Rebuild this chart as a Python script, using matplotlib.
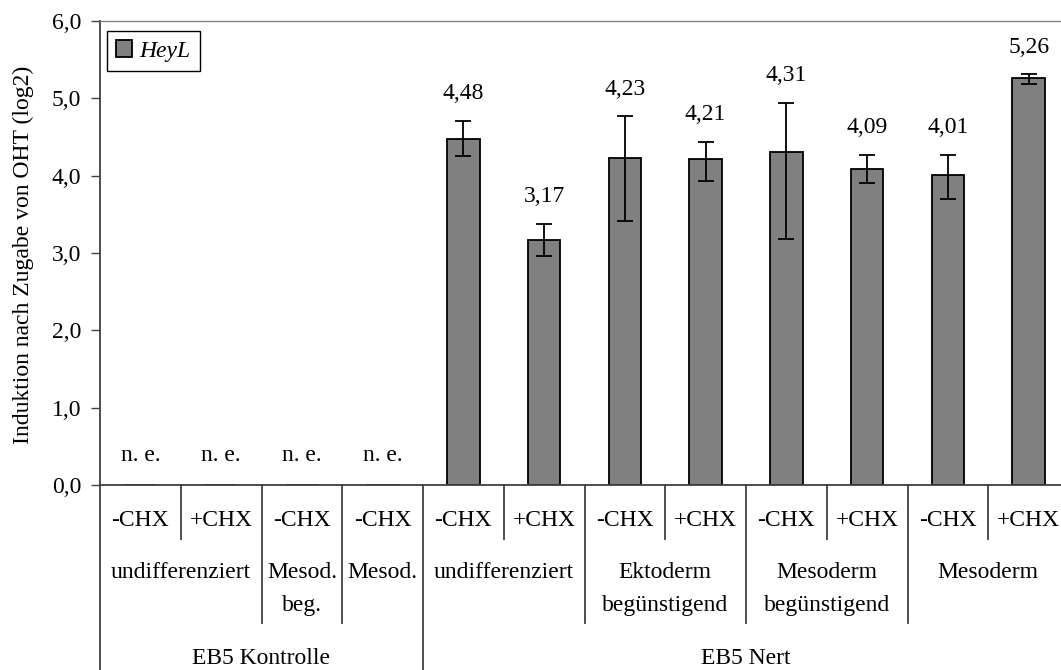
import numpy as np
import matplotlib
matplotlib.use('Agg')
import matplotlib.pyplot as plt
from matplotlib.patches import Patch

plt.rcParams['font.family'] = ['Liberation Serif', 'DejaVu Serif']

# data
treatment = ["-CHX", "+CHX", "-CHX", "-CHX", "-CHX", "+CHX",
             "-CHX", "+CHX", "-CHX", "+CHX", "-CHX", "+CHX"]
values = [np.nan, np.nan, np.nan, np.nan, 4.48, 3.17, 4.23, 4.21, 4.31, 4.09, 4.01, 5.26]
err_up = [0, 0, 0, 0, 0.23, 0.21, 0.54, 0.23, 0.63, 0.18, 0.26, 0.05]
err_down = [0, 0, 0, 0, 0.23, 0.21, 0.82, 0.28, 1.13, 0.18, 0.31, 0.07]
not_measured = [0, 1, 2, 3]
# (label lines, first cat, last cat)
stages = [(["undifferenziert"], 0, 1), (["Mesod.", "beg."], 2, 2), (["Mesod."], 3, 3),
          (["undifferenziert"], 4, 5), (["Ektoderm", "begünstigend"], 6, 7),
          (["Mesoderm", "begünstigend"], 8, 9), (["Mesoderm"], 10, 11)]
lines_ = [("EB5 Kontrolle", 0, 3), ("EB5 Nert", 4, 11)]

fs = 17
W, H = 1061, 670
fig = plt.figure(figsize=(W / 100, H / 100), dpi=100)
ax = fig.add_axes([100 / W, 1 - 485 / H, 969 / W, 464 / H])

x = np.arange(len(values))
vals = np.array(values)
up = np.array(err_up)
dn = np.array(err_down)
ax.bar(x, np.nan_to_num(vals), width=0.4, color='#808080', edgecolor='black', linewidth=1.3, zorder=2)
m = ~np.isnan(vals)
ax.errorbar(x[m], vals[m], yerr=[dn[m], up[m]], fmt='none', ecolor='black',
            elinewidth=1.3, capsize=5.8, capthick=1.3, zorder=3)
for i in x[m]:
    ax.annotate(f"{vals[i]:.2f}".replace('.', ','), (i, vals[i] + up[i]),
                xytext=(0, 27), textcoords='offset pixels', ha='center', va='center', fontsize=fs)
for i in not_measured:
    ax.text(i, 0.38, "n. e.", ha='center', va='center', fontsize=fs)

ax.set_xlim(-0.5, len(values) - 0.5)
ax.set_ylim(0, 6)
ax.set_yticks(np.arange(0, 6.01, 1))
ax.set_yticklabels([f"{t:.1f}".replace('.', ',') for t in np.arange(0, 6.01, 1)], fontsize=fs)
ax.tick_params(axis='y', direction='out', length=6.5, width=1, color='#404040', pad=7)
ax.set_xticks([])
fig.text(23 / W, 1 - 255 / H, "Induktion nach Zugabe von OHT (log2)", rotation=90,
         ha='center', va='center', fontsize=fs)
for s in ['left', 'bottom']:
    ax.spines[s].set_color('#404040')
    ax.spines[s].set_linewidth(1.3)
for s in ['top', 'right']:
    ax.spines[s].set_color('#808080')
    ax.spines[s].set_linewidth(1)

# category axis below the plot
tr = ax.get_xaxis_transform()
def fy(p):
    return (485 - p) / 464
for i, t in enumerate(treatment):
    ax.text(i, fy(521), t, ha='center', va='center', fontsize=fs, transform=tr, clip_on=False)
for lbl, a, b in stages:
    for k, ln in enumerate(lbl):
        ax.text((a + b) / 2, fy(573 + 32 * k), ln, ha='center', va='center', fontsize=fs,
                transform=tr, clip_on=False)
for lbl, a, b in lines_:
    ax.text((a + b) / 2, fy(658), lbl, ha='center', va='center', fontsize=fs, transform=tr, clip_on=False)

bounds1 = set(i + 0.5 for i in range(len(values) - 1))
bounds2 = set(b + 0.5 for _, a, b in stages[:-1])
bounds3 = set(b + 0.5 for _, a, b in lines_[:-1]) | {-0.5}
for xb in bounds1 | bounds2 | bounds3:
    if xb in bounds3:
        end = 700
    elif xb in bounds2:
        end = 623
    else:
        end = 539
    ax.plot([xb, xb], [0, fy(end)], color='#404040', lw=1.3, transform=tr, clip_on=False)

leg = ax.legend([Patch(facecolor='#808080', edgecolor='black', linewidth=1.3)], ["HeyL"],
                loc='upper left', bbox_to_anchor=(7 / 969, 1 - 10 / 464), borderaxespad=0,
                prop={'family': 'Liberation Serif', 'style': 'italic', 'size': fs},
                handlelength=0.67, handleheight=0.67, handletextpad=0.3, borderpad=0.4,
                fancybox=False, framealpha=1, edgecolor='black')
leg.get_frame().set_linewidth(1)

fig.savefig('out.png', dpi=100)
